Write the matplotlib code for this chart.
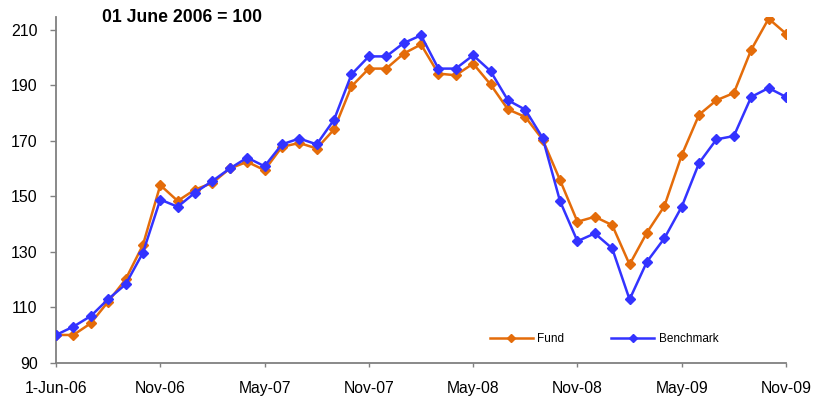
import matplotlib
matplotlib.use("Agg")
import matplotlib.pyplot as plt
from matplotlib.lines import Line2D

plt.rcParams['font.family'] = ['Liberation Sans', 'DejaVu Sans']

tick_positions = [0, 6, 12, 18, 24, 30, 36, 42]
tick_labels = ["1-Jun-06", "Nov-06", "May-07", "Nov-07", "May-08", "Nov-08", "May-09", "Nov-09"]

fund = [100, 100, 104.2, 112, 120, 132.4, 154, 148.3, 152.4, 154.8, 160, 162.4, 159.4,
        167.8, 169.2, 167.2, 174.1, 189.6, 196, 196, 201.4, 204.7, 194.2, 193.6, 197.8,
        190.3, 181.3, 178.6, 170.4, 155.8, 140.8, 142.6, 139.6, 125.4, 136.9, 146.4,
        164.8, 179.4, 184.6, 187.2, 202.8, 214, 208.6]
benchmark = [100, 103, 106.8, 112.9, 118.2, 129.6, 148.8, 146.2, 151.3, 155.5, 160, 163.9, 160.8,
             168.7, 170.8, 168.7, 177.6, 193.9, 200.4, 200.4, 205.2, 208, 196, 196, 200.8,
             195.1, 184.6, 181.2, 171, 148.2, 133.8, 136.6, 131.2, 112.8, 126.4, 134.8,
             146.2, 162, 170.5, 171.7, 185.8, 189, 185.8]

W, H = 813, 401
fig = plt.figure(figsize=(W / 100, H / 100), dpi=100)
ax = fig.add_axes([56 / W, (H - 362.7) / H, (786 - 56) / W, (362.7 - 17) / H])

x = list(range(len(fund)))
orange = "#E46C0A"
blue = "#3333FF"
ax.plot(x, fund, color=orange, lw=1.8, marker='D', markersize=5.5, label="Fund", zorder=3)
ax.plot(x, benchmark, color=blue, lw=1.8, marker='D', markersize=5.5, label="Benchmark", zorder=4)

ax.set_xlim(0, 42)
ax.set_ylim(90, 214.6)
ax.set_yticks([90, 110, 130, 150, 170, 190, 210])
ax.set_xticks(tick_positions)
ax.set_xticklabels(tick_labels)

for s in ['top', 'right']:
    ax.spines[s].set_visible(False)
for s in ['left', 'bottom']:
    ax.spines[s].set_color('#808080')
    ax.spines[s].set_linewidth(1.3)
ax.tick_params(axis='y', direction='out', length=4.3, width=1, color='#808080',
               labelsize=11.5, pad=9)
ax.tick_params(axis='x', direction='out', length=3, width=1, color='#808080',
               labelsize=11.3, pad=10)

fig.text(182 / W, 1 - 18 / H, "01 June 2006 = 100", ha='center', va='center',
         fontsize=12.7, fontweight='bold')

handles = [Line2D([], [], color=orange, lw=1.8, marker='D', markersize=4),
           Line2D([], [], color=blue, lw=1.8, marker='D', markersize=4)]
fig.legend(handles, ["Fund", "Benchmark"], loc='center left',
           bbox_to_anchor=(490 / W, 1 - 339 / H), bbox_transform=fig.transFigure,
           ncol=2, frameon=False, fontsize=8.5, handlelength=3.6, handletextpad=0.4,
           columnspacing=4.0, borderpad=0, borderaxespad=0)

fig.savefig("out.png", dpi=100)
